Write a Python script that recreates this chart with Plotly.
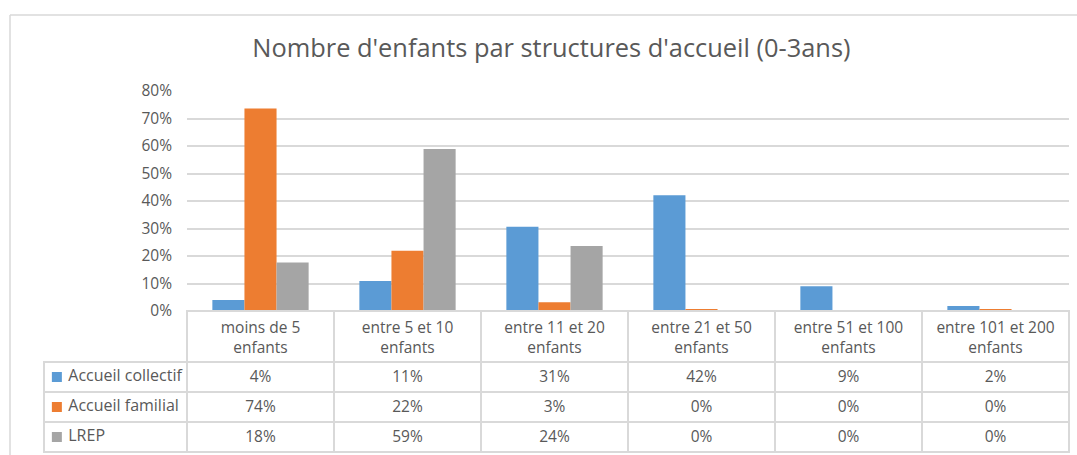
import plotly.graph_objects as go

# Data (share of structures, in %)
categories = ["moins de 5<br>enfants", "entre 5 et 10<br>enfants", "entre 11 et 20<br>enfants",
              "entre 21 et 50<br>enfants", "entre 51 et 100<br>enfants", "entre 101 et 200<br>enfants"]
series_names = ["Accueil collectif", "Accueil familial", "LREP"]
accueil_collectif = [4.0, 10.9, 30.6, 42.1, 9.0, 1.8]
accueil_familial = [73.6, 21.9, 3.2, 0.4, 0.0, 0.4]
lrep = [17.6, 58.9, 23.6, 0.0, 0.0, 0.0]
colors = ["#5B9BD5", "#ED7D31", "#A5A5A5"]

W, H = 1077, 455
grey_txt = "#595959"
grid = "#d9d9d9"
font_family = "Open Sans"
clear = "rgba(0,0,0,0)"

all_series = [accueil_collectif, accueil_familial, lrep]
xs = list(range(len(categories)))

fig = go.Figure()

# bars, one trace per series
for name, vals, col in zip(series_names, all_series, colors):
    fig.add_trace(go.Bar(
        x=xs,
        y=[v / 100 for v in vals],
        name=name,
        marker=dict(color=col, line=dict(width=0)),
        hoverinfo="skip",
        showlegend=False,
    ))

# legend keys + series names in the first table column
fig.add_trace(go.Scatter(
    x=[0.09] * len(series_names),
    y=list(range(len(series_names))),
    mode="markers+text",
    text=["\u00a0" + n for n in series_names],
    textposition="middle right",
    textfont=dict(family=font_family, size=16, color=grey_txt),
    marker=dict(symbol="square", size=10, color=colors),
    xaxis="x2", yaxis="y2",
    cliponaxis=False,
    hoverinfo="skip",
    showlegend=False,
))

# data table under the plot (Excel style); category names come from the x axis
value_cols = []
for i in range(len(categories)):
    value_cols.append(["%.0f%%" % s[i] for s in all_series])

fig.add_trace(go.Table(
    domain=dict(x=[44 / W, 1069 / W], y=[0, (H - 311) / H]),
    columnwidth=[143] + [147] * len(categories),
    header=dict(
        values=[""] * (len(categories) + 1),
        height=51,
        fill=dict(color=clear),
        line=dict(color=[clear] + [grid] * len(categories), width=1.5),
        font=dict(family=font_family, size=15.5, color=grey_txt),
    ),
    cells=dict(
        values=[[""] * len(series_names)] + value_cols,
        align="center",
        height=30,
        fill=dict(color=clear),
        line=dict(color=grid, width=1.5),
        font=dict(family=font_family, size=15.5, color=grey_txt),
    ),
))

# chart area border (left and top edges, the rest is outside the picture)
fig.add_shape(type="line", xref="paper", yref="paper",
              x0=10 / W, x1=1, y0=(H - 15) / H, y1=(H - 15) / H,
              line=dict(color=grid, width=1.5), layer="below")
fig.add_shape(type="line", xref="paper", yref="paper",
              x0=10 / W, x1=10 / W, y0=0, y1=(H - 15) / H,
              line=dict(color=grid, width=1.5), layer="below")

fig.update_layout(
    width=W, height=H,
    margin=dict(l=0, r=0, t=0, b=0, autoexpand=False),
    paper_bgcolor="white",
    plot_bgcolor="white",
    barmode="group",
    bargap=0.345,
    bargroupgap=0,
    font=dict(family=font_family, color=grey_txt),
    title=dict(text="Nombre d'enfants par structures d'accueil (0-3ans)",
               x=0.512, xanchor="center", y=(H - 48) / H, yanchor="middle",
               font=dict(family=font_family, size=25.4, color=grey_txt)),
    xaxis=dict(domain=[187 / W, 1069 / W], range=[-0.5, len(categories) - 0.5],
               tickmode="array", tickvals=xs, ticktext=categories, ticks="",
               ticklabelstandoff=5, automargin=False,
               tickfont=dict(family=font_family, size=15.5, color=grey_txt),
               showgrid=False, zeroline=False, showline=False, fixedrange=True),
    yaxis=dict(domain=[(H - 311) / H, (H - 91) / H], range=[0, 0.8], dtick=0.1,
               tickformat=".0%", showgrid=True, gridcolor=grid, gridwidth=1.5,
               zeroline=False, showline=False, ticks="", ticklabelstandoff=14,
               automargin=False,
               tickfont=dict(family=font_family, size=15.5, color=grey_txt), fixedrange=True),
    xaxis2=dict(domain=[44 / W, 187 / W], range=[0, 1], visible=False, fixedrange=True,
                anchor="y2", automargin=False),
    yaxis2=dict(domain=[(H - 452) / H, (H - 362) / H], range=[2.5, -0.5], visible=False,
                fixedrange=True, anchor="x2", automargin=False),
)

fig.write_html("out.html", config={"displayModeBar": False},
               post_script="document.body.style.margin='0';")
